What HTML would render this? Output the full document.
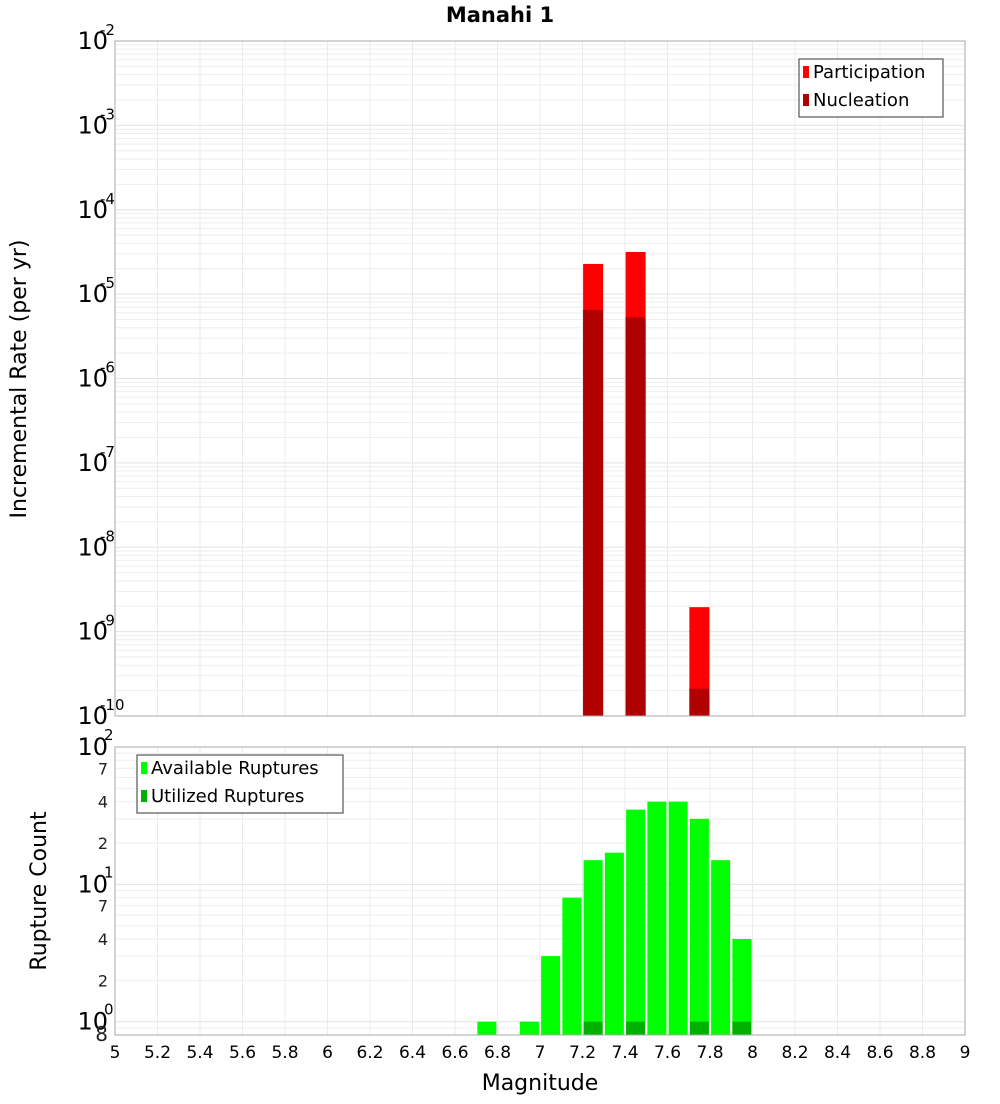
<!DOCTYPE html>
<html><head><meta charset="utf-8"><style>
body{margin:0;background:#fff;font-family:"DejaVu Sans","Liberation Sans",sans-serif;}
svg text{font-family:"DejaVu Sans","Liberation Sans",sans-serif;}
</style></head><body>
<svg id="c" width="1000" height="1100" xmlns="http://www.w3.org/2000/svg">
<text x="500" y="22" text-anchor="middle" font-size="21" font-weight="bold">Manahi 1</text>
<g id="g"></g>
</svg>
<script>
const topMags=[7.25,7.45,7.75];
const participation=[2.28e-5,3.16e-5,1.95e-9];
const nucleation=[6.5e-6,5.3e-6,2.1e-10];
const botMags=[6.75,6.95,7.05,7.15,7.25,7.35,7.45,7.55,7.65,7.75,7.85,7.95];
const available=[1,1,3,8,15,17,35,40,40,30,15,4];
const utilMags=[7.25,7.45,7.75,7.95];
const utilized=[1,1,1,1];
const xTicks=[5,5.2,5.4,5.6,5.8,6,6.2,6.4,6.6,6.8,7,7.2,7.4,7.6,7.8,8,8.2,8.4,8.6,8.8,9];

const g=document.getElementById('g');
const NS='http://www.w3.org/2000/svg';
function mk(t,a,p){const e=document.createElementNS(NS,t);for(const k in a)e.setAttribute(k,a[k]);(p||g).appendChild(e);return e;}
const X0=115,X1=965;
const x=v=>X0+(v-5)/4*(X1-X0);
const T0=41,T1=716;
const yT=v=>T0+(-2-Math.log10(v))/8*(T1-T0);
const B0=747,B1=1035;
const yB=v=>B1-(Math.log10(v)-Math.log10(0.8))/(2-Math.log10(0.8))*(B1-B0);

// grids
function grid(y0,y1,yf,lo,hi){
  for(let d=lo;d<hi;d++)for(let m=1;m<10;m++){const v=m*Math.pow(10,d);const yy=yf(v);if(yy<y0-0.5||yy>y1+0.5)continue;
    const l=mk('line',{x1:X0,x2:X1,y1:yy,y2:yy,stroke:m==1?'#e2e2e2':'#eeeeee','stroke-width':1});
    }
  xTicks.forEach(t=>{const l=mk('line',{x1:x(t),x2:x(t),y1:y0,y2:y1,stroke:'#ebebeb'});
    });
}
grid(T0,T1,yT,-10,-2);
grid(B0,B1,yB,-1,2);

const bw=20;
topMags.forEach((m,i)=>{
  const r=mk('rect',{x:x(m)-bw/2,y:yT(participation[i]),width:bw,height:T1-yT(participation[i]),fill:'#ff0000'});
  
  const n=mk('rect',{x:x(m)-bw/2,y:yT(nucleation[i]),width:bw,height:T1-yT(nucleation[i]),fill:'#b00000'});
  
});
botMags.forEach((m,i)=>{
  const r=mk('rect',{x:x(m)-9.5,y:yB(available[i]),width:19,height:B1-yB(available[i]),fill:'#00ff00'});
  
});
utilMags.forEach((m,i)=>{
  const r=mk('rect',{x:x(m)-9.5,y:yB(utilized[i]),width:19,height:B1-yB(utilized[i]),fill:'#00b000'});
  
});

// frames
let f=mk('rect',{x:X0,y:T0,width:X1-X0,height:T1-T0,fill:'none',stroke:'#aaaaaa'});

f=mk('rect',{x:X0,y:B0,width:X1-X0,height:B1-B0,fill:'none',stroke:'#aaaaaa'});


// top y labels
for(let e=-2;e>=-10;e--){
  const yy=yT(Math.pow(10,e));
  const t=mk('text',{x:108,y:yy+8,'text-anchor':'end','font-size':24});
  
  t.textContent='10';
  const s=mk('text',{x:100,y:yy-6,'font-size':15});
  
  s.textContent=String(e);
}
// bottom y labels
[[100,'2'],[10,'1'],[1,'0']].forEach(([v,e])=>{
  const yy=yB(v);
  const t=mk('text',{x:108,y:yy+8,'text-anchor':'end','font-size':24});
  
  t.textContent='10';
  const s=mk('text',{x:104,y:yy-7,'font-size':15});
  
  s.textContent=e;
});
[[70,'7'],[40,'4'],[20,'2'],[7,'7'],[4,'4'],[2,'2'],[0.8,'8']].forEach(([v,l])=>{
  const t=mk('text',{x:108,y:yB(v)+6,'text-anchor':'end','font-size':v==0.8?20:16,fill:'#222'});
  
  t.textContent=l;
});
xTicks.forEach(v=>{
  const t=mk('text',{x:x(v),y:1058,'text-anchor':'middle','font-size':17});
  
  t.textContent=String(v);
});
let t=mk('text',{x:540,y:1090,'text-anchor':'middle','font-size':22});
t.textContent='Magnitude';
t=mk('text',{x:0,y:0,'text-anchor':'middle','font-size':22,transform:'translate(26,379) rotate(-90)'});
t.textContent='Incremental Rate (per yr)';
t=mk('text',{x:0,y:0,'text-anchor':'middle','font-size':22,transform:'translate(46,891) rotate(-90)'});
t.textContent='Rupture Count';

// legends
function legend(x0,y0,w,items,name){
  const lg=mk('g',{});
  mk('rect',{x:x0,y:y0,width:w,height:58,fill:'#fff',stroke:'#333'},lg);
  items.forEach(([c,l],i)=>{
    mk('rect',{x:x0+4,y:y0+13+i*28-6,width:6,height:12,fill:c},lg);
    const tt=mk('text',{x:x0+14,y:y0+13+i*28+6,'font-size':18},lg);tt.textContent=l;
  });
}
legend(799,59,144,[['#ff0000','Participation'],['#b00000','Nucleation']],'top-legend');
legend(137,755,206,[['#00ff00','Available Ruptures'],['#00b000','Utilized Ruptures']],'bottom-legend');
</script>
</body></html>
